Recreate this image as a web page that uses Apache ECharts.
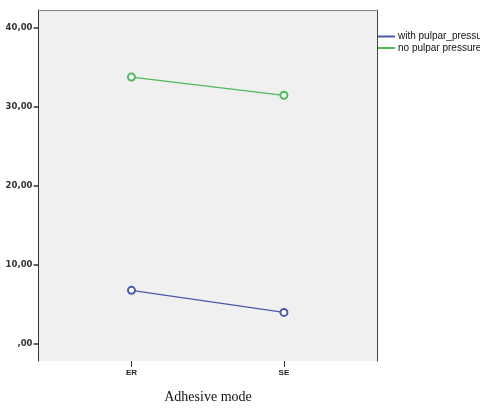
<!DOCTYPE html>
<html>
<head>
<meta charset="utf-8">
<script src="https://cdn.jsdelivr.net/npm/echarts@6/dist/echarts.min.js"></script>
<style>
html,body{margin:0;padding:0;background:#fff;}
#c{width:480px;height:409px;}
</style>
</head>
<body>
<div id="c"></div>
<script>
var categories = ['ER', 'SE'];
var seriesNames = ['with pulpar_pressure', 'no pulpar pressure'];
var withPulpar = [6.8, 4.0];
var noPulpar = [33.8, 31.5];
var yTicks = [0, 10, 20, 30, 40];
var xTitle = 'Adhesive mode';

function pts(arr){ return arr.map(function(v,i){ return [i, v]; }); }
function fmtY(v){ var s = v.toFixed(2).replace('.', ','); return v === 0 ? ',00' : s; }

var chart = echarts.init(document.getElementById('c'), null, {renderer:'canvas'});
chart.setOption({
  animation: false,
  backgroundColor: '#ffffff',
  grid: {left: 38.5, right: 102.5, top: 10, bottom: 47, show: true, backgroundColor: '#f0f0f0', borderWidth: 0},
  legend: {
    orient: 'vertical', left: 378, top: 31.5, padding: 0, itemWidth: 17, itemHeight: 2, itemGap: 1.5,
    icon: 'rect',
    textStyle: {fontFamily: 'Liberation Sans', fontSize: 10, color: '#111', padding: [0,0,0,-2]},
    data: seriesNames
  },
  xAxis: [{
    type: 'value', min: -0.61, max: 1.614,
    axisLine: {show: false, onZero: false},
    splitLine: {show: false},
    axisTick: {show: true, customValues: [0, 1], length: 6, lineStyle: {color: '#333'}},
    axisLabel: {customValues: [0, 1], formatter: function(v){ return categories[Math.round(v)]; },
      fontFamily: 'Liberation Sans', fontSize: 8, fontWeight: 'bold', color: '#222', margin: 8},
    name: xTitle, nameLocation: 'middle', nameGap: 29,
    nameTextStyle: {fontFamily: 'Liberation Serif', fontSize: 14, color: '#111'}
  }, {
    type: 'value', position: 'top', min: 0, max: 1,
    axisLine: {show: true, onZero: false, lineStyle: {color: '#888', width: 1}},
    axisTick: {show: false}, axisLabel: {show: false}, splitLine: {show: false}
  }],
  yAxis: [{
    type: 'value', min: -2.15, max: 42.3,
    axisLine: {show: true, onZero: false, lineStyle: {color: '#333', width: 1}},
    splitLine: {show: false},
    axisTick: {show: true, customValues: yTicks, length: 5, lineStyle: {color: '#333', width: 1.5}},
    axisLabel: {customValues: yTicks, formatter: fmtY, fontFamily: 'DejaVu Sans', fontSize: 8.5,
      fontWeight: 'bold', color: '#333', margin: 6}
  }, {
    type: 'value', position: 'right', min: 0, max: 1,
    axisLine: {show: true, onZero: false, lineStyle: {color: '#444', width: 1}},
    axisTick: {show: false}, axisLabel: {show: false}, splitLine: {show: false}
  }],
  series: [{
    name: seriesNames[0], type: 'line', data: pts(withPulpar),
    symbol: 'emptyCircle', symbolSize: 7,
    lineStyle: {color: '#4a58ac', width: 1.3},
    itemStyle: {color: '#4a58ac', borderWidth: 1}
  }, {
    name: seriesNames[1], type: 'line', data: pts(noPulpar),
    symbol: 'emptyCircle', symbolSize: 7,
    lineStyle: {color: '#4cba58', width: 1.3},
    itemStyle: {color: '#4cba58', borderWidth: 1}
  }]
});
</script>
</body>
</html>
